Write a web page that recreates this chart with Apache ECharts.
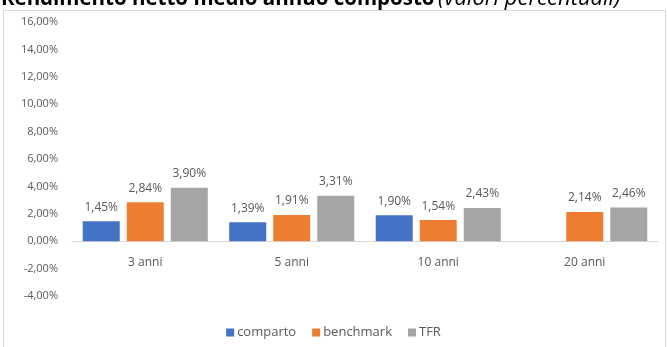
<!DOCTYPE html>
<html>
<head>
<meta charset="utf-8">
<script src="https://cdn.jsdelivr.net/npm/echarts@6/dist/echarts.min.js"></script>
<style>
  html, body { margin: 0; padding: 0; background: #fff; }
  #chart { width: 667px; height: 347px; }
</style>
</head>
<body>
<div id="chart"></div>
<script>
// Periodi di riferimento
const categories = ['3 anni', '5 anni', '10 anni', '20 anni'];
// Rendimenti netti medi annui composti (%)
const comparto = [1.45, 1.39, 1.90, null];
const benchmark = [2.84, 1.91, 1.54, 2.14];
const tfr = [3.90, 3.31, 2.43, 2.46];
// Scala asse verticale
const yMin = -4;
const yMax = 16;
const yStep = 2;

const pct = v => v.toFixed(2).replace('.', ',') + '%';
const FONT = '"Open Sans", sans-serif';
const TXT = '#595959';

const GRID_TOP = 22;
const GRID_BOTTOM = 51;
const PLOT_H = 347 - GRID_TOP - GRID_BOTTOM;
// distanza fra il fondo dell'area e la linea dello zero
const zeroOffset = PLOT_H * (0 - yMin) / (yMax - yMin);

const chart = echarts.init(document.getElementById('chart'), null, { renderer: 'canvas' });

function barSeries(name, data, color) {
  return {
    name: name,
    type: 'bar',
    data: data,
    barWidth: 37,
    barGap: '19%',
    itemStyle: { color: color },
    label: {
      show: true,
      position: 'top',
      distance: 8,
      color: TXT,
      fontFamily: FONT,
      fontSize: 12,
      formatter: p => pct(p.value)
    }
  };
}

chart.setOption({
  animation: false,
  backgroundColor: '#fff',
  graphic: [
    {
      type: 'rect',
      silent: true,
      shape: { x: 3.5, y: 10.5, width: 662, height: 345 },
      style: { fill: 'none', stroke: '#d9d9d9', lineWidth: 1 },
      z: 0
    },
    {
      type: 'text',
      silent: true,
      style: {
        x: 1, y: 10,
        text: 'Rendimento netto medio annuo composto',
        font: 'bold 20.5px "Open Sans", sans-serif',
        fill: '#000',
        verticalAlign: 'bottom'
      }
    },
    {
      type: 'text',
      silent: true,
      style: {
        x: 438, y: 10,
        text: '(valori percentuali)',
        font: 'italic 22px "Open Sans", sans-serif',
        fill: '#000',
        verticalAlign: 'bottom'
      }
    }
  ],
  legend: {
    top: 321,
    left: 'center',
    itemWidth: 8,
    itemHeight: 8,
    itemGap: 16,
    icon: 'rect',
    textStyle: { color: TXT, fontFamily: FONT, fontSize: 13, padding: [0, 0, 0, -2] },
    data: ['comparto', 'benchmark', 'TFR']
  },
  grid: { left: 72, right: 9, top: GRID_TOP, bottom: GRID_BOTTOM },
  xAxis: {
    type: 'category',
    data: categories,
    offset: -zeroOffset,
    axisLine: { onZero: false, lineStyle: { color: '#d9d9d9', width: 1 } },
    axisTick: { show: false },
    axisLabel: { color: TXT, fontFamily: FONT, fontSize: 12, margin: 15 }
  },
  yAxis: {
    type: 'value',
    min: yMin,
    max: yMax,
    interval: yStep,
    axisLine: { show: false },
    axisTick: { show: false },
    splitLine: { show: false },
    axisLabel: {
      color: TXT,
      fontFamily: FONT,
      fontSize: 11,
      margin: 14,
      formatter: v => pct(v)
    }
  },
  series: [
    barSeries('comparto', comparto, '#4472C4'),
    barSeries('benchmark', benchmark, '#ED7D31'),
    barSeries('TFR', tfr, '#A5A5A5')
  ]
});
</script>
</body>
</html>
